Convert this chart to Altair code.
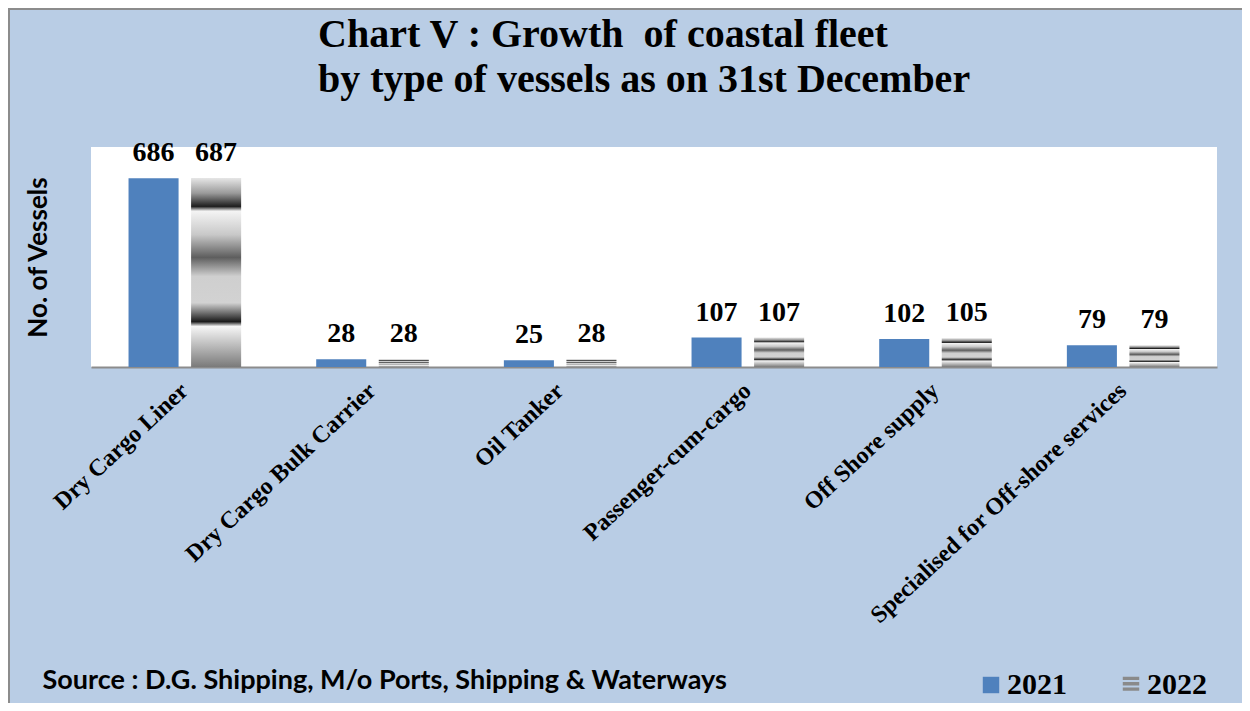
import altair as alt
import pandas as pd

categories = ["Dry Cargo Liner", "Dry Cargo Bulk Carrier", "Oil Tanker",
              "Passenger-cum-cargo", "Off Shore supply",
              "Specialised for Off-shore services"]
v2021 = [686, 28, 25, 107, 102, 79]
v2022 = [687, 28, 28, 107, 105, 79]
years = ["2021", "2022"]

rows = []
for c, a, b in zip(categories, v2021, v2022):
    rows.append({"Type": c, "Year": "2021", "Vessels": a})
    rows.append({"Type": c, "Year": "2022", "Vessels": b})
df = pd.DataFrame(rows)

title_lines = ["Chart V : Growth\u00a0 of coastal fleet",
               "by type of vessels as on 31st December"]
source_text = "Source : D.G. Shipping, M/o Ports, Shipping & Waterways"

stripe_path = ("M-1,-1H1V-0.6H-1Z M-1,-0.35H1V0.05H-1Z "
               "M-1,0.3H1V0.7H-1Z")

grad = alt.LinearGradient(
    gradient="linear", x1=0, x2=0, y1=0, y2=1,
    stops=[
        alt.GradientStop(offset=0, color="#e6e6e6"),
        alt.GradientStop(offset=0.08, color="#9a9a9a"),
        alt.GradientStop(offset=0.15, color="#1e1e1e"),
        alt.GradientStop(offset=0.175, color="#f4f4f4"),
        alt.GradientStop(offset=0.3, color="#c8c8c8"),
        alt.GradientStop(offset=0.42, color="#5e5e5e"),
        alt.GradientStop(offset=0.52, color="#cfcfcf"),
        alt.GradientStop(offset=0.66, color="#d2d2d2"),
        alt.GradientStop(offset=0.76, color="#1a1a1a"),
        alt.GradientStop(offset=0.785, color="#f6f6f6"),
        alt.GradientStop(offset=1, color="#7a7a7a"),
    ],
)

x = alt.X("Type:N", sort=categories,
          scale=alt.Scale(paddingInner=0.4, paddingOuter=0.2),
          title=source_text)
xo = alt.XOffset("Year:N", scale=alt.Scale(domain=years, paddingInner=0.2, paddingOuter=0))
y = alt.Y("Vessels:Q", scale=alt.Scale(domain=[0, 800]),
          axis=alt.Axis(labels=False, ticks=False, domain=False, grid=False,
                        title="No. of Vessels", titleFont="Lato",
                        titleFontWeight="bold", titleFontSize=26,
                        titleColor="black", titlePadding=40))

base = alt.Chart(df).encode(x=x, xOffset=xo, y=y)

leg = base.mark_point(filled=True, opacity=0).encode(
    color=alt.Color("Year:N", scale=alt.Scale(domain=years, range=["#4F81BD", "#8a8a8a"]),
                    legend=alt.Legend(title=None)),
    shape=alt.Shape("Year:N", scale=alt.Scale(domain=years, range=["square", stripe_path]),
                    legend=alt.Legend(title=None)),
)

bars21 = base.transform_filter(alt.datum.Year == "2021").mark_bar(fill="#4F81BD")
bars22 = base.transform_filter(alt.datum.Year == "2022").mark_bar(fill=grad)

labels = base.mark_text(font="Liberation Serif", fontWeight="bold", fontSize=28,
                        baseline="alphabetic", dy=-17, color="black").encode(text="Vessels:Q")

one = pd.DataFrame({"a": [0]})
border_top = alt.Chart(one).mark_rule(color="#8c8c8c", strokeWidth=2).encode(
    x=alt.value(-83), x2=alt.value(1151), y=alt.value(-138))
border_left = alt.Chart(one).mark_rule(color="#8c8c8c", strokeWidth=2).encode(
    x=alt.value(-82), y=alt.value(-139), y2=alt.value(556))

chart = alt.layer(leg, bars21, bars22, labels, border_top, border_left).properties(
    width=1126, height=220,
    title=alt.TitleParams(text=title_lines, anchor="start", dx=227, offset=-93,
                          font="Liberation Serif", fontSize=40, fontWeight="bold",
                          lineHeight=45, color="black", frame="group"),
    background="#B9CDE5",
    autosize=alt.AutoSizeParams(type="none"),
    padding={"left": 83, "top": 139, "right": 25, "bottom": 336},
).configure_view(fill="white", stroke=None).configure_axisX(
    domainColor="#8c8c8c", domainWidth=2, ticks=False, grid=False,
    labelFont="Liberation Serif", labelFontWeight="bold", labelFontSize=24,
    labelColor="black", labelAngle=317, labelAlign="right", labelBaseline="middle",
    labelPadding=20, labelLimit=600,
    titleFont="Lato", titleFontWeight="bold", titleFontSize=27, titleColor="black",
    titleAnchor="start", titleAlign="left", titleX=-49, titleY=321,
    titleBaseline="alphabetic",
).configure_legend(
    orient="none", legendX=885, legendY=523, direction="horizontal",
    labelFont="Liberation Serif", labelFontWeight="bold", labelFontSize=30,
    labelColor="black", symbolSize=270, labelOffset=1, columnPadding=49,
    symbolOpacity=1, symbolStrokeWidth=0, padding=0,
)

chart.save("out.html", embed_options={"renderer": "svg", "actions": False})
